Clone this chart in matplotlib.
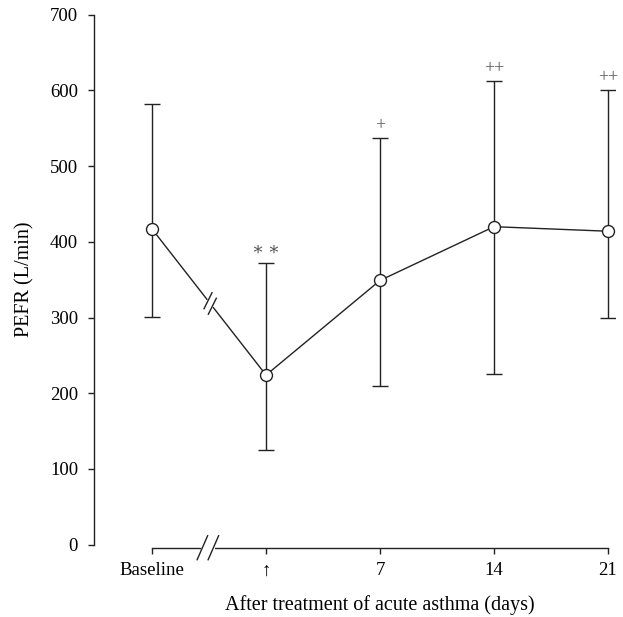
import numpy as np
import matplotlib.pyplot as plt

# -----------------------------
# Data
# -----------------------------
time_labels = ["Baseline", "\u2191", "7", "14", "21"]
pefr_mean = [417, 224, 349, 420, 414]
pefr_upper = [582, 372, 537, 612, 600]
pefr_lower = [301, 125, 210, 225, 299]
sig_marks = ["", "\u2217\u2009\u2217", "+", "++", "++"]

y_ticks = [0, 100, 200, 300, 400, 500, 600, 700]

plt.rcParams['font.family'] = ['Liberation Serif', 'DejaVu Serif']
ink = "#222222"

fig = plt.figure(figsize=(6.23, 6.17), dpi=100)
ax = fig.add_axes([0.1509, 0.1172, 0.836, 0.859])

x = np.arange(len(time_labels))
mean = np.array(pefr_mean)
err = np.array([mean - np.array(pefr_lower), np.array(pefr_upper) - mean])

ax.set_xlim(-0.509, 4.06)
ax.set_ylim(0, 700)

# error bars + mean line
ax.errorbar(x, mean, yerr=err, fmt="none", ecolor=ink, elinewidth=1.0,
            capsize=5.8, capthick=1.0, zorder=2)
ax.plot(x, mean, color=ink, lw=1.0, zorder=3)
ax.plot(x, mean, ls="none", marker="o", ms=8.6, mfc="white", mec=ink,
        mew=1.0, zorder=5)

# significance marks above the upper caps
for xi, top, mark in zip(x, pefr_upper, sig_marks):
    if mark:
        ax.text(xi, top + 5, mark, ha="center", va="bottom", fontsize=13,
                color="#555555")

# -----------------------------
# Axes styling
# -----------------------------
for side in ["top", "right"]:
    ax.spines[side].set_visible(False)
ax.spines["left"].set_bounds(0, 700)
ax.spines["bottom"].set_position(("data", -4))
ax.spines["bottom"].set_bounds(0, 4)
for side in ["left", "bottom"]:
    ax.spines[side].set_linewidth(1.0)
    ax.spines[side].set_color(ink)

ax.set_yticks(y_ticks)
ax.set_xticks(x)
ax.set_xticklabels(time_labels)
ax.tick_params(axis="both", direction="out", length=4.5, width=1.0,
               color=ink, labelsize=13.5, labelcolor="black")
ax.tick_params(axis="y", pad=7)
ax.tick_params(axis="x", pad=6)

ax.set_ylabel("PEFR (L/min)", fontsize=14.5)
ax.yaxis.set_label_coords(-0.115, 0.5)
ax.set_xlabel("After treatment of acute asthma (days)", fontsize=14.5)
ax.xaxis.set_label_coords(0.549, -0.096)


# -----------------------------
# Break marks (pixel offsets)
# -----------------------------
def px_to_data(px, py):
    return ax.transData.inverted().transform((px, py))


def draw_break(cx, cy, along, slash, gap):
    # cx, cy in data; along = direction (pixels) of the broken line
    c = ax.transData.transform((cx, cy))
    a = np.array(along) / np.hypot(*along)
    s = np.array(slash)
    p1 = c - a * gap / 2
    p2 = c + a * gap / 2
    # white gap in the underlying line
    g = np.array([px_to_data(*(p1 - a * 1.2)), px_to_data(*(p2 + a * 1.2))])
    ax.plot(g[:, 0], g[:, 1], color="white", lw=3.0, zorder=6, clip_on=False,
            solid_capstyle="butt")
    for p in (p1, p2):
        seg = np.array([px_to_data(*(p - s / 2)), px_to_data(*(p + s / 2))])
        ax.plot(seg[:, 0], seg[:, 1], color=ink, lw=1.0, zorder=7,
                clip_on=False)


fig.canvas.draw()
# on the x axis
draw_break(0.49, -4, (1, 0), (10.5, 24), 11)
# on the data line between baseline and first point
p0 = ax.transData.transform((0, pefr_mean[0]))
p1 = ax.transData.transform((1, pefr_mean[1]))
mid = 0.51
draw_break(mid, pefr_mean[0] + mid * (pefr_mean[1] - pefr_mean[0]),
           p1 - p0, (8, 16), 7)

fig.savefig("out.png", dpi=100)
